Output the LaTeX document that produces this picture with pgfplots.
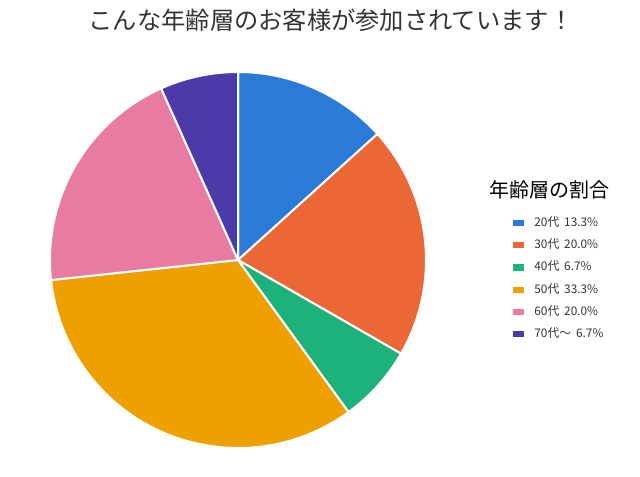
\documentclass[border=0pt]{standalone}
\usepackage{fontspec}
\setmainfont{Noto Sans CJK JP}
\usepackage{pgfplots}
\usepackage{pgfplotstable}
\pgfplotsset{compat=1.18}

\definecolor{c1}{HTML}{2A7AD8}
\definecolor{c2}{HTML}{EB6836}
\definecolor{c3}{HTML}{1DB27B}
\definecolor{c4}{HTML}{EDA000}
\definecolor{c5}{HTML}{E87BA2}
\definecolor{c6}{HTML}{4C3AA8}
\definecolor{txt}{HTML}{333333}

% share of each age group in percent
\pgfplotstableread[col sep=comma]{
label,pct,col
20代,13.3,c1
30代,20.0,c2
40代,6.7,c3
50代,33.3,c4
60代,20.0,c5
70代〜,6.7,c6
}\agedata

\begin{document}
\begin{tikzpicture}
\path[use as bounding box] (0,0) rectangle (480pt,357pt);
\begin{axis}[
  at={(0,0)}, anchor=south west,
  scale only axis,
  width=480pt, height=357pt,
  xmin=0, xmax=640, ymin=0, ymax=476,
  hide axis, clip=false,
  legend cell align=left,
  legend image code/.code={\fill[#1, draw=none] (0pt,-2.3pt) rectangle (8.3pt,2.3pt);},
  legend style={at={(axis cs:513,259)}, anchor=north west, draw=none, fill=none,
    font=\fontsize{8.9}{10}\selectfont\color{txt},
    row sep=7.6pt, inner sep=0pt,
    nodes={inner sep=0pt, text height=7pt, text depth=2pt}},
]
\def\angstart{90}
\pgfplotsforeachungrouped \i in {0,...,5}{
  \pgfplotstablegetelem{\i}{pct}\of\agedata \let\p\pgfplotsretval
  \pgfplotstablegetelem{\i}{col}\of\agedata \let\c\pgfplotsretval
  \pgfplotstablegetelem{\i}{label}\of\agedata \let\l\pgfplotsretval
  \pgfmathsetmacro\angend{\angstart-3.6*\p}
  \pgfmathsetmacro\xs{238+188*cos(\angstart)}
  \pgfmathsetmacro\ys{216+188*sin(\angstart)}
  \edef\temp{\noexpand\filldraw[fill=\c, draw=white, line width=1.5pt, line join=round]
    (axis cs:238,216) -- (axis cs:\xs,\ys)
    arc[start angle=\angstart, end angle=\angend, radius=188] -- cycle;
    \noexpand\addlegendimage{fill=\c}
    \noexpand\addlegendentry{\noexpand\hspace{7.5pt}\l\noexpand\hspace{3.6pt}\p\noexpand\%}}
  \temp
  \global\let\angstart\angend
}
\node[txt, font=\fontsize{18.2}{20}\selectfont] at (axis cs:331,456) {こんな年齢層のお客様が参加されています！};
\node[black, font=\fontsize{15}{17}\selectfont] at (axis cs:549,286) {年齢層の割合};
\end{axis}
\end{tikzpicture}
\end{document}
